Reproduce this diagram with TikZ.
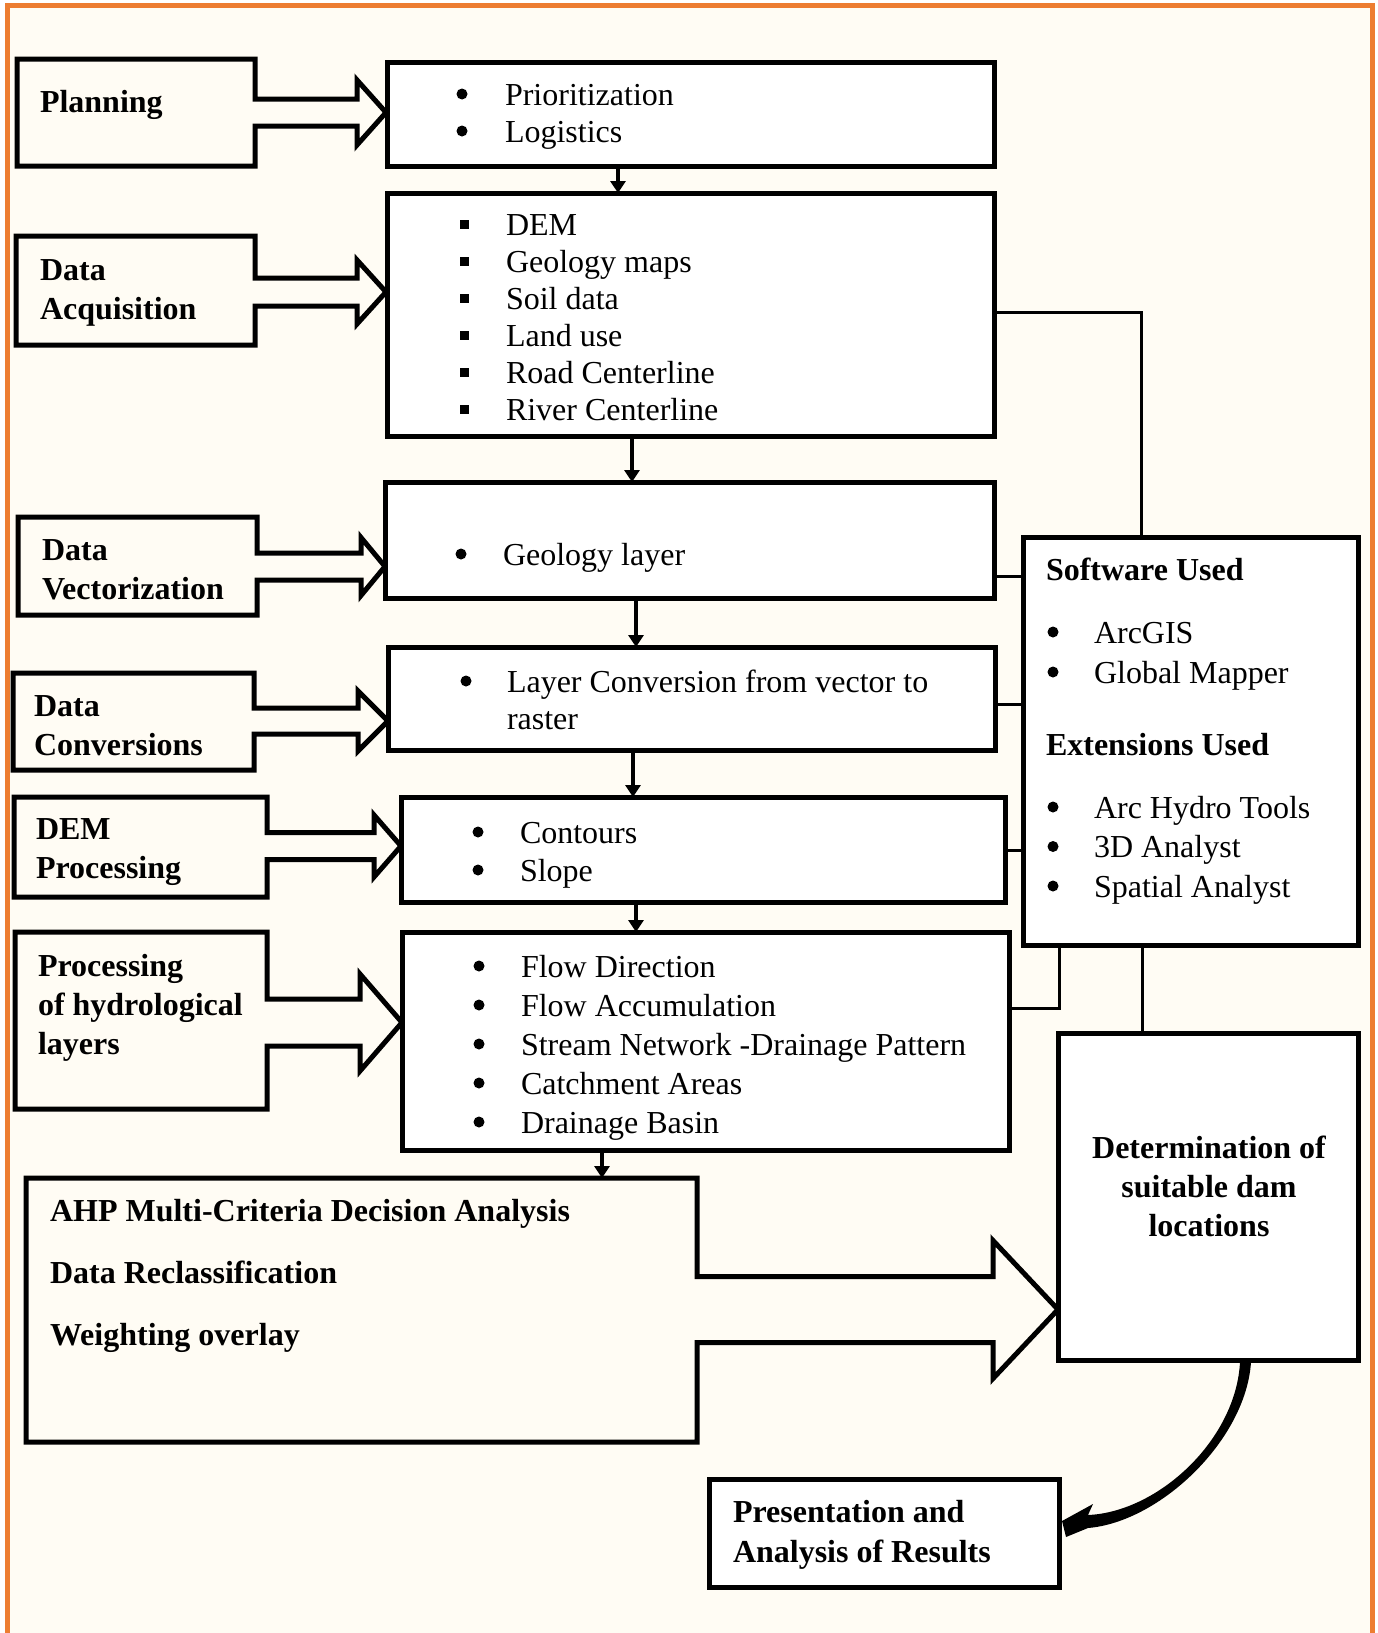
\documentclass[tikz,border=0pt]{standalone}
\usepackage{fontspec}
\setmainfont{Liberation Serif}
\usetikzlibrary{arrows.meta}
\definecolor{cream}{HTML}{FFFCF4}
\definecolor{frameorange}{HTML}{ED7D31}
\newcommand{\callout}[9]{\draw[lab] (#1,#2) -- (#3,#2) -- (#3,{#6-#7}) -- ({#5-#9},{#6-#7}) -- ({#5-#9},{#6-#8}) -- (#5,#6) -- ({#5-#9},{#6+#8}) -- ({#5-#9},{#6+#7}) -- (#3,{#6+#7}) -- (#3,#4) -- (#1,#4) -- cycle;}
\newcommand{\boxnode}[5]{\node[box,minimum width={#4-#2},minimum height={#5-#3}] (#1) at ({(#2+#4)/2},{(#3+#5)/2}) {};}
\newcommand{\Sq}[1]{\makebox[#1][l]{\rule[6.5pt]{9pt}{9pt}}}
\begin{document}
\begin{tikzpicture}[x=1pt,y=-1pt,
  box/.style={draw,line width=5pt,fill=white,inner sep=0pt,outer sep=0pt},
  lab/.style={draw,line width=5pt,fill=cream,line join=miter},
  conn/.style={line width=3pt},
  down/.style={line width=4.5pt,-{Triangle[length=12pt,width=15pt]}},
  dot/.style={fill=black},
  txt/.style={inner sep=0pt,outer sep=0pt,anchor=base west,font=\fontsize{32}{37}\selectfont},
  btxt/.style={txt,font=\fontsize{32}{39}\selectfont\bfseries}
]
\useasboundingbox (0,0) rectangle (1377,1633);
\fill[white] (0,0) rectangle (1377,1633);
\draw[frameorange,line width=5pt,fill=cream] (7,5.5) rectangle (1372,1650);

% label callouts
\callout{17}{59}{255}{166}{386}{112.5}{13.5}{32.5}{29}
\callout{16}{236}{255}{345}{386}{292}{14}{32}{29}
\callout{18}{517}{257}{615}{385}{566.5}{13.5}{29}{24}
\callout{13}{673}{254}{770}{388}{721}{13}{30}{30}
\callout{14}{797}{267}{897}{401}{846}{13.5}{31}{27}
\callout{15}{932}{267}{1109}{402}{1022.5}{23.5}{48.5}{42}
\callout{26}{1178}{697}{1442}{1058}{1309.5}{33}{69}{65}
\coordinate (ahptop) at (602,1178);

% boxes
\boxnode{b1}{387}{62}{994}{166}
\boxnode{b2}{387}{193}{994}{436}
\boxnode{b3}{385}{482}{994}{598}
\boxnode{b4}{388}{647}{995}{750}
\boxnode{b5}{401}{797}{1005}{902}
\boxnode{b6}{402}{932}{1009}{1150}
\boxnode{sw}{1023}{537}{1358}{945}
\boxnode{det}{1058}{1033}{1358}{1360}
\boxnode{pres}{709}{1479}{1059}{1587}

% down arrows
\coordinate (a1) at (618,0);
\coordinate (a2) at (632,0);
\coordinate (a3) at (636,0);
\coordinate (a4) at (633,0);
\coordinate (a5) at (636,0);
\draw[down] (b1.south -| a1) -- (b2.north -| a1);
\draw[down] (b2.south -| a2) -- (b3.north -| a2);
\draw[down] (b3.south -| a3) -- (b4.north -| a3);
\draw[down] (b4.south -| a4) -- (b5.north -| a4);
\draw[down] (b5.south -| a5) -- (b6.north -| a5);
\draw[down] (b6.south -| ahptop) -- (ahptop);

% thin connectors to software box
\coordinate (j1) at (1141,312);
\coordinate (j2) at (1023,576);
\coordinate (j3) at (1023,704);
\coordinate (j4) at (1023,850);
\coordinate (j5) at (1059,1008);
\coordinate (j6) at (1142,0);
\draw[conn] (b2.east |- j1) -- (j1) -- (sw.north -| j1);
\draw[conn] (b3.east |- j2) -- (sw.west |- j2);
\draw[conn] (b4.east |- j3) -- (sw.west |- j3);
\draw[conn] (b5.east |- j4) -- (sw.west |- j4);
\draw[conn] (b6.east |- j5) -- (j5) -- (sw.south -| j5);
\draw[conn] (sw.south -| j6) -- (det.north -| j6);

% curved arrow from det to pres
\fill (1251,1362) .. controls (1246,1440) and (1160,1522) .. (1088,1528) -- (1066,1537) -- (1062,1521) -- (1093,1504) -- (1088,1515) .. controls (1158,1512) and (1236,1440) .. (1240,1362) -- cycle;

% list bullets
\foreach \x/\y in {462/94,462/131,461/554,466/681,478/832,478/870,
  479/966,479/1005,479/1044,479/1083,479/1122,
  1053/632,1053/672,1053/807,1053/846.5,1053/886}
  \fill[dot] (\x,\y) circle (5.5);

% left labels
\node[btxt] (l1) at (40,112) {Planning};
\node[btxt] (l2) at (40,280) {\begin{tabular}[t]{@{}l@{}}Data\\Acquisition\end{tabular}};
\node[btxt] (l3) at (42,560) {\begin{tabular}[t]{@{}l@{}}Data\\Vectorization\end{tabular}};
\node[btxt] (l4) at (34,716) {\begin{tabular}[t]{@{}l@{}}Data\\Conversions\end{tabular}};
\node[btxt] (l5) at (36,839) {\begin{tabular}[t]{@{}l@{}}DEM\\Processing\end{tabular}};
\node[btxt] (l6) at (38,976) {\begin{tabular}[t]{@{}l@{}}Processing\\of hydrological\\layers\end{tabular}};
\node[btxt,font=\fontsize{32}{62}\selectfont\bfseries] (l7) at (50,1221) {\begin{tabular}[t]{@{}l@{}}AHP Multi-Criteria Decision Analysis\\Data Reclassification\\Weighting overlay\end{tabular}};

% box contents
\node[txt] (t1) at (505,105) {\begin{tabular}[t]{@{}l@{}}Prioritization\\Logistics\end{tabular}};
\node[txt] (t2) at (459.5,235) {\begin{tabular}[t]{@{}l@{}}\Sq{46.5pt}DEM\\\Sq{46.5pt}Geology maps\\\Sq{46.5pt}Soil data\\\Sq{46.5pt}Land use\\\Sq{46.5pt}Road Centerline\\\Sq{46.5pt}River Centerline\end{tabular}};
\node[txt] (t3) at (503,565) {Geology layer};
\node[txt] (t4) at (507,692) {\begin{tabular}[t]{@{}l@{}}Layer Conversion from vector to\\raster\end{tabular}};
\node[txt,font=\fontsize{32}{38}\selectfont] (t5) at (520,843) {\begin{tabular}[t]{@{}l@{}}Contours\\Slope\end{tabular}};
\node[txt,font=\fontsize{32}{39}\selectfont] (t6) at (521,977) {\begin{tabular}[t]{@{}l@{}}Flow Direction\\Flow Accumulation\\Stream Network -Drainage Pattern\\Catchment Areas\\Drainage Basin\end{tabular}};
\node[btxt] (t7) at (1046,580) {Software Used};
\node[txt,font=\fontsize{32}{40}\selectfont] (t8) at (1094,643) {\begin{tabular}[t]{@{}l@{}}ArcGIS\\Global Mapper\end{tabular}};
\node[btxt] (t9) at (1046,755) {Extensions Used};
\node[txt,font=\fontsize{32}{39.5}\selectfont] (t10) at (1094,818) {\begin{tabular}[t]{@{}l@{}}Arc Hydro Tools\\3D Analyst\\Spatial Analyst\end{tabular}};
\node[btxt,anchor=base] (t11) at (1209,1158) {\begin{tabular}[t]{@{}c@{}}Determination of\\suitable dam\\locations\end{tabular}};
\node[btxt,font=\fontsize{32}{40}\selectfont\bfseries] (t12) at (733,1522) {\begin{tabular}[t]{@{}l@{}}Presentation and\\Analysis of Results\end{tabular}};
\end{tikzpicture}
\end{document}
